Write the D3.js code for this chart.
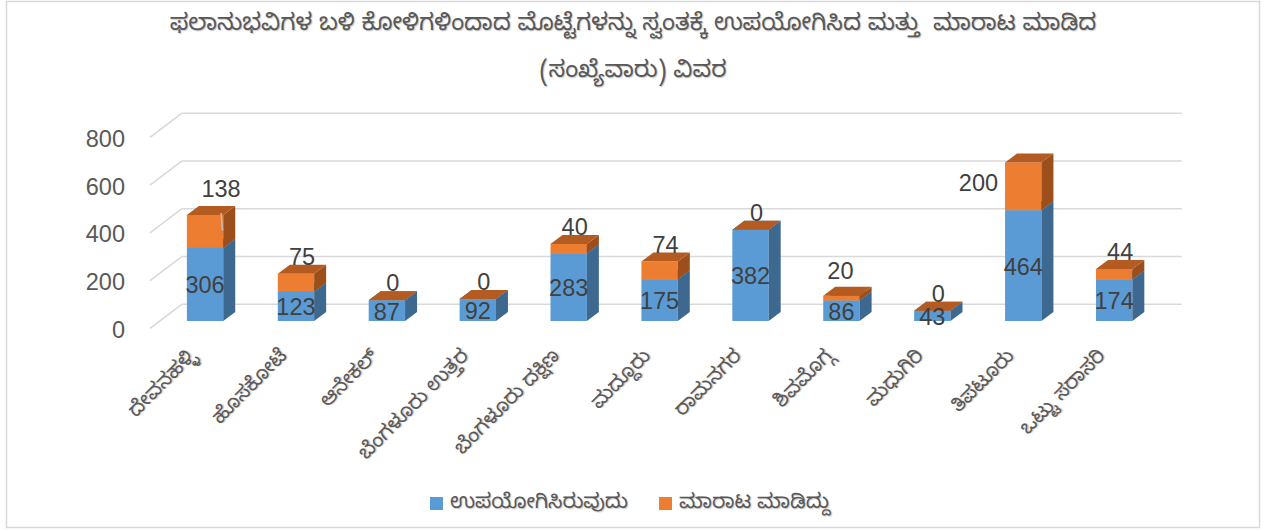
<!DOCTYPE html>
<html>
<head>
<meta charset="utf-8">
<script src="https://cdn.jsdelivr.net/npm/d3@7"></script>
<style>
  body { margin: 0; background: #fff; }
  text { font-family: "Liberation Sans", Arial, "Noto Sans Kannada", "Noto Sans", sans-serif; }
  .kn { font-family: "Noto Sans Kannada", "Lohit Kannada", "Noto Sans", sans-serif; white-space: pre; }
  .shadow { text-shadow: 1px 1px 1px rgba(0,0,0,0.22); }
</style>
</head>
<body>
<div id="chart"></div>
<script>
// chart values
const titleLines = [
  'ಫಲಾನುಭವಿಗಳ ಬಳಿ ಕೋಳಿಗಳಿಂದಾದ ಮೊಟ್ಟೆಗಳನ್ನು ಸ್ವಂತಕ್ಕೆ ಉಪಯೋಗಿಸಿದ ಮತ್ತು  ಮಾರಾಟ ಮಾಡಿದ',
  '(ಸಂಖ್ಯೆವಾರು) ವಿವರ'
];
const districts = ['ದೇವನಹಳ್ಳಿ', 'ಹೊಸಕೋಟೆ', 'ಆನೇಕಲ್', 'ಬೆಂಗಳೂರು ಉತ್ತರ', 'ಬೆಂಗಳೂರು ದಕ್ಷಿಣ',
  'ಮದ್ದೂರು', 'ರಾಮನಗರ', 'ಶಿವಮೊಗ್ಗ', 'ಮಧುಗಿರಿ', 'ತಿಪಟೂರು', 'ಒಟ್ಟು ಸರಾಸರಿ'];
const usedOwn = [306, 123, 87, 92, 283, 175, 382, 86, 43, 464, 174];
const sold = [138, 75, 0, 0, 40, 74, 0, 20, 0, 200, 44];
const seriesNames = ['ಉಪಯೋಗಿಸಿರುವುದು', 'ಮಾರಾಟ ಮಾಡಿದ್ದು'];
const yTicks = [0, 200, 400, 600, 800];

const W = 1267, H = 531;

// 3d look: floor depth, where the bars sit in it, and bar thickness
const wall = {dx: 31.7, dy: -24};
const barShift = {dx: 9.6, dy: -7.3};
const barDepth = {dx: 12, dy: -9};

const colors = {
  blue: {front: '#5b9bd5', side: '#3d6990', top: '#4a82b6'},
  orange: {front: '#ed7d31', side: '#9c4f1b', top: '#b35b20'}
};

let svg = d3.select('#chart')
  .append('svg')
  .attr('width', W)
  .attr('height', H);

// outer frame
svg.append('rect')
  .attr('x', 6.5).attr('y', 1.5)
  .attr('width', 1253).attr('height', 526)
  .attr('fill', 'none')
  .attr('stroke', '#d9d9d9')
  .attr('stroke-width', 1.5);

// title
svg.append('g')
  .selectAll('text')
  .data(titleLines)
  .join('text')
  .attr('class', 'kn shadow')
  .attr('x', 633)
  .attr('y', (d, i) => 27 + i * 47)
  .attr('text-anchor', 'middle')
  .attr('dominant-baseline', 'central')
  .attr('font-size', 23.5)
  .attr('fill', '#595959')
  .text(d => d);

let y = d3.scaleLinear().domain([0, 800]).range([328.3, 137.3]);
let x = d3.scaleBand()
  .domain(districts)
  .range([150, 1150])
  .paddingInner(0.6)
  .paddingOuter(0.3);

// back wall grid and left wall diagonals
let grid = svg.append('g')
  .attr('stroke', '#d9d9d9')
  .attr('stroke-width', 1.6)
  .attr('fill', 'none');

grid.selectAll('.back')
  .data(yTicks)
  .join('line')
  .attr('x1', 150 + wall.dx)
  .attr('x2', 1150 + wall.dx)
  .attr('y1', d => y(d) + wall.dy)
  .attr('y2', d => y(d) + wall.dy);

grid.selectAll('.side')
  .data(yTicks)
  .join('line')
  .attr('x1', 150)
  .attr('x2', 150 + wall.dx)
  .attr('y1', d => y(d))
  .attr('y2', d => y(d) + wall.dy);

// y axis labels
svg.append('g')
  .selectAll('text')
  .data(yTicks)
  .join('text')
  .attr('x', 125)
  .attr('y', d => y(d) + 1.5)
  .attr('text-anchor', 'end')
  .attr('dominant-baseline', 'central')
  .attr('font-size', 23.5)
  .attr('fill', '#595959')
  .text(d => d);

/* Draws one box of a 3d column: front face, side face and top.
 * @param Selection: group to draw in
 * @param Number: left x of the front face
 * @param Number: bottom y of the front face
 * @param Number: top y of the front face
 * @param Object: colours for the faces
 */
function drawBox(g, x0, yb, yt, c) {
  let x1 = x0 + x.bandwidth();
  let dx = barDepth.dx, dy = barDepth.dy;
  g.append('rect')
    .attr('x', x0).attr('y', yt)
    .attr('width', x1 - x0).attr('height', yb - yt)
    .attr('fill', c.front);
  g.append('path')
    .attr('d', d3.line()([[x1, yb], [x1 + dx, yb + dy], [x1 + dx, yt + dy], [x1, yt]]))
    .attr('fill', c.side);
  g.append('path')
    .attr('d', d3.line()([[x0, yt], [x0 + dx, yt + dy], [x1 + dx, yt + dy], [x1, yt]]))
    .attr('fill', c.top);
}

const rows = districts.map((d, i) => ({name: d, used: usedOwn[i], sold: sold[i], i: i}));

let bars = svg.append('g');
rows.forEach(r => {
  let g = bars.append('g');
  let x0 = x(r.name) + barShift.dx;
  let base = y(0) + barShift.dy;
  let yUsed = y(r.used) + barShift.dy;
  let yTotal = y(r.used + r.sold) + barShift.dy;
  drawBox(g, x0, base, yUsed, colors.blue);
  drawBox(g, x0, yUsed, yTotal, colors.orange);
});

// data labels; a few of the sold labels were dragged in the original
const soldNudge = {0: {dx: 10, dy: -9, leader: true}, 7: {dx: -7, dy: -8}, 9: {left: true}};

let labels = svg.append('g')
  .attr('font-size', 23.5)
  .attr('fill', '#404040');

rows.forEach(r => {
  let x0 = x(r.name) + barShift.dx;
  let cx = x0 + x.bandwidth() / 2;
  let yUsed = y(r.used) + barShift.dy;
  let base = y(0) + barShift.dy;
  let yTotal = y(r.used + r.sold) + barShift.dy;

  labels.append('text')
    .attr('x', cx)
    .attr('y', (base + yUsed) / 2 + 1)
    .attr('text-anchor', 'middle')
    .attr('dominant-baseline', 'central')
    .text(r.used);

  let n = soldNudge[r.i] || {};
  let lx = cx + barDepth.dx / 2 + (n.dx || 0);
  let ly = yTotal + barDepth.dy / 2 - 12.5 + (n.dy || 0);
  let anchor = 'middle';
  if (n.left) {
    lx = x0 - 7;
    ly = (yUsed + yTotal) / 2 - 3;
    anchor = 'end';
  }
  if (n.leader) {
    labels.append('line')
      .attr('x1', lx).attr('y1', ly + 24)
      .attr('x2', lx + 1.5).attr('y2', (yUsed + yTotal) / 2 - 1)
      .attr('stroke', '#bfbfbf')
      .attr('stroke-width', 1.5);
  }
  labels.append('text')
    .attr('x', lx)
    .attr('y', ly)
    .attr('text-anchor', anchor)
    .attr('dominant-baseline', 'central')
    .text(r.sold);
});

// category labels, rotated
svg.append('g')
  .selectAll('text')
  .data(districts)
  .join('text')
  .attr('class', 'kn shadow')
  .attr('transform', d => 'translate(' + (x(d) + x.bandwidth() / 2 + barShift.dx - 10) + ',355) rotate(-45)')
  .attr('text-anchor', 'end')
  .attr('dominant-baseline', 'central')
  .attr('font-size', 20)
  .attr('fill', '#595959')
  .text(d => d);

// legend
let legend = svg.append('g');
const legendX = [430, 659];
seriesNames.forEach((s, i) => {
  legend.append('rect')
    .attr('x', legendX[i]).attr('y', 497)
    .attr('width', 13).attr('height', 13)
    .attr('fill', i == 0 ? colors.blue.front : colors.orange.front);
  legend.append('text')
    .attr('class', 'kn shadow')
    .attr('x', legendX[i] + 20)
    .attr('y', 505)
    .attr('dominant-baseline', 'central')
    .attr('font-size', 20.5)
    .attr('fill', '#595959')
    .text(s);
});
</script>
</body>
</html>
